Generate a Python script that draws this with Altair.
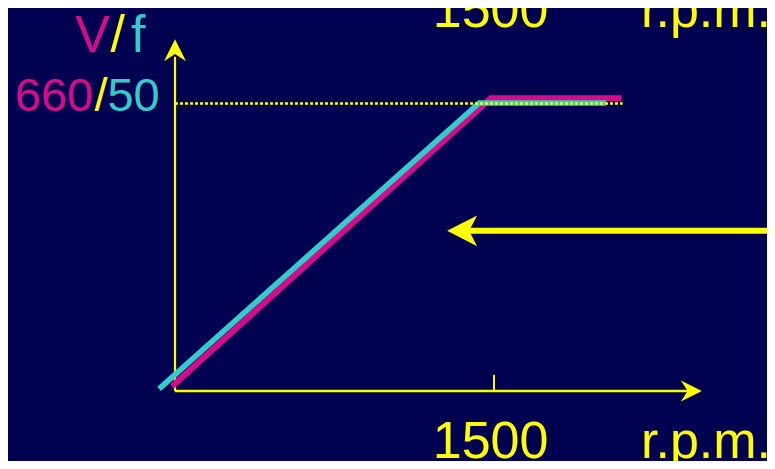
import altair as alt
import pandas as pd

# ---------------- data (speed in r.p.m., voltage in V) ----------------
# V characteristic (magenta) and f characteristic (cyan)
v_rpm = [-14, 1485, 2100]
v_volts = [11, 671, 671]
f_rpm = [-75, 1430, 2027]
f_volts = [5, 660, 660]

# dotted 660 V reference
ref_rpm = [0, 2105]
ref_volts = [659, 659]

# axes, tick and the "speed reduction" arrow shaft
yaxis_rpm = [0, 0]
yaxis_volts = [0, 766]
xaxis_rpm = [0, 2412]
xaxis_volts = [0, 0]
tick_rpm = [1500, 1500]
tick_volts = [0, 37]
shift_rpm = [1382, 2850]
shift_volts = [367, 367]

# arrow heads
xhead_rpm, xhead_volts = [2428], [0]
yhead_rpm, yhead_volts = [0], [781]
shifthead_rpm, shifthead_volts = [1350], [367]

# labels
vf_parts = ["V", "/", "f"]
vf_rpm = [-388, -269, -173]
vf_volts = [778, 778, 778]
ratio_parts = ["660", "/", "50"]
ratio_rpm = [-569, -348, -195]
ratio_volts = [642, 642, 642]
speed_parts = ["1500", "r.p.m.", "1500", "r.p.m."]
speed_rpm = [1484, 2497, 1484, 2497]
speed_volts = [-154, -154, 834, 834]

# ---------------- styling ----------------
BG = "#000050"
YELLOW = "#FFFF00"
MAGENTA = "#D60B8C"
CYAN = "#33CCCC"
FONT = "Liberation Sans"
ARROW = "M1,0L-1,-1L-0.35,0L-1,1Z"
BIG_ARROW = "M1,0L-1,-1.03L-0.47,0L-1,1.03Z"

XS = alt.Scale(domain=[-785.3, 2783.7], nice=False, zero=False)
YS = alt.Scale(domain=[-160.4, 877.7], nice=False, zero=False)


def enc():
    return dict(
        x=alt.X("rpm:Q", scale=XS, axis=None),
        y=alt.Y("volts:Q", scale=YS, axis=None),
    )


def df(xs, ys, extra=None):
    d = pd.DataFrame({"rpm": xs, "volts": ys})
    d["order"] = range(len(d))
    if extra:
        for k, v in extra.items():
            d[k] = v
    return d


def seg(xs, ys, color, width, dash=None):
    kw = dict(color=color, strokeWidth=width, strokeCap="butt")
    if dash:
        kw["strokeDash"] = dash
    return alt.Chart(df(xs, ys)).mark_line(**kw).encode(
        order="order:Q", **enc()
    )


def head(xs, ys, shape, size, angle):
    return alt.Chart(df(xs, ys)).mark_point(
        shape=shape, size=size, angle=angle, filled=True,
        color=YELLOW, opacity=1, strokeWidth=0
    ).encode(**enc())


def label(text, x, y, color, size):
    return alt.Chart(df([x], [y], {"t": [text]})).mark_text(
        font=FONT, fontSize=size, color=color, align="center",
        baseline="alphabetic"
    ).encode(text="t:N", **enc())


layers = [
    seg(yaxis_rpm, yaxis_volts, YELLOW, 2.2),
    seg(xaxis_rpm, xaxis_volts, YELLOW, 2.5),
    seg(tick_rpm, tick_volts, YELLOW, 2),
    head(xhead_rpm, xhead_volts, ARROW, 441, 0),
    head(yhead_rpm, yhead_volts, ARROW, 484, 270),
    seg(v_rpm, v_volts, MAGENTA, 6),
    seg(f_rpm, f_volts, CYAN, 5.5),
    seg(ref_rpm, ref_volts, YELLOW, 2.5, [3, 2]),
    seg(shift_rpm, shift_volts, YELLOW, 6),
    head(shifthead_rpm, shifthead_volts, BIG_ARROW, 900, 180),
]

vf_colors = [MAGENTA, YELLOW, CYAN]
for t, x, y, c in zip(vf_parts, vf_rpm, vf_volts, vf_colors):
    layers.append(label(t, x, y, c, 52))
for t, x, y, c in zip(ratio_parts, ratio_rpm, ratio_volts, vf_colors):
    layers.append(label(t, x, y, c, 47))
for t, x, y in zip(speed_parts, speed_rpm, speed_volts):
    layers.append(label(t, x, y, YELLOW, 52))

chart = alt.layer(*layers).properties(
    width=759,
    height=453,
    background=BG,
    padding=0,
    autosize=alt.AutoSizeParams(type="none"),
).configure_view(strokeWidth=0)

chart.save("out.html", embed_options={"renderer": "svg", "actions": False})
